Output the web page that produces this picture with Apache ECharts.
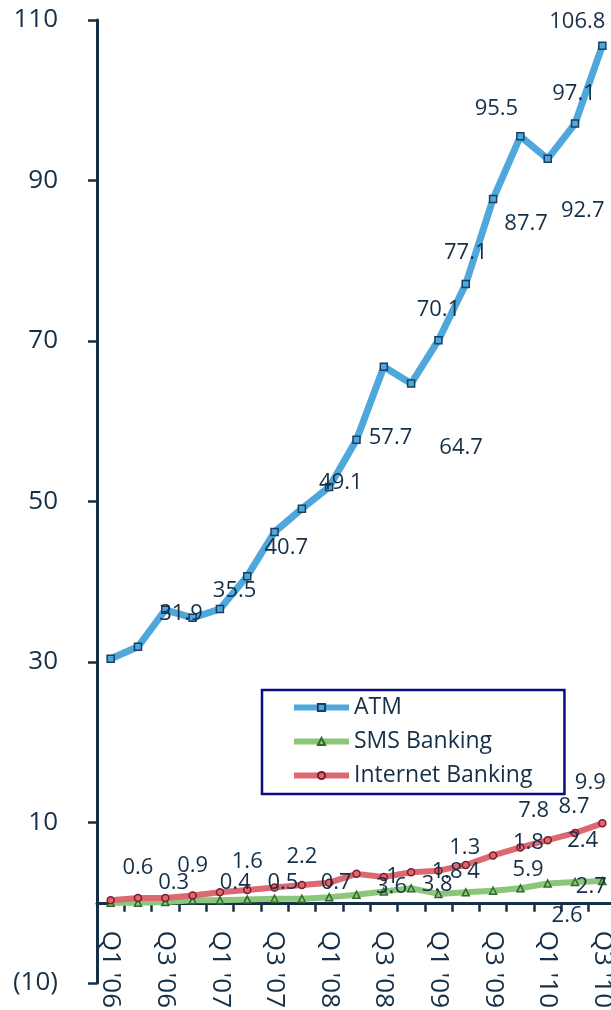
<!DOCTYPE html>
<html>
<head>
<meta charset="utf-8">
<script src="https://cdn.jsdelivr.net/npm/echarts@6/dist/echarts.min.js"></script>
<style>
  html, body { margin: 0; padding: 0; background: #fff; }
</style>
</head>
<body>
<div id="MyChart" style="width: 611px; height: 1010px;"></div>
<script>
// quarters on the x axis
const quarters = ["Q1 '06", "Q2 '06", "Q3 '06", "Q4 '06", "Q1 '07", "Q2 '07", "Q3 '07", "Q4 '07",
  "Q1 '08", "Q2 '08", "Q3 '08", "Q4 '08", "Q1 '09", "Q2 '09", "Q3 '09", "Q4 '09",
  "Q1 '10", "Q2 '10", "Q3 '10"];

// series values
const atm = [30.4, 31.9, 36.5, 35.5, 36.6, 40.7, 46.2, 49.1, 51.8, 57.7, 66.8, 64.7, 70.1, 77.1, 87.7, 95.5, 92.7, 97.1, 106.8];
const sms = [0.0, 0.0, 0.1, 0.3, 0.3, 0.4, 0.5, 0.5, 0.7, 1.0, 1.4, 1.8, 1.1, 1.3, 1.5, 1.8, 2.4, 2.6, 2.7];
const internet = [0.3, 0.6, 0.6, 0.9, 1.3, 1.6, 1.9, 2.2, 2.5, 3.6, 3.2, 3.8, 4.0, 4.7, 5.9, 6.9, 7.8, 8.7, 9.9];

// y axis tick labels
const yTicks = [-10, 10, 30, 50, 70, 90, 110];

// labelled points -> label shift from the marker [dx, dy]
const atmNudge = {1: [43, -33], 3: [42, -27], 5: [39, -28], 7: [39, -26], 9: [34, -2], 11: [50, 64],
  12: [0, -30], 13: [0, -31], 14: [33, 25], 15: [-24, -28], 16: [35, 52], 17: [-1, -30], 18: [-25, -24]};
const smsNudge = {3: [-19, -18], 5: [-12, -17], 7: [-19, -16], 8: [7, -14], 9: [36, -18], 11: [36, -17],
  13: [-1, -45], 15: [8, -46], 16: [35, -43], 17: [-8, 34], 18: [-11, 6]};
const internetNudge = {1: [0, -30], 3: [0, -30], 5: [0, -28], 7: [0, -28], 9: [35, 13], 11: [26, 12],
  12: [35, 1], 14: [35, 14], 16: [-14, -29], 17: [-1, -26], 18: [-12, -41]};

const textColor = '#152f47';
const font = '"Open Sans", "Noto Sans", sans-serif';

// plot box and y range
const gridTop = 20, gridBottom = 27, yMin = -10, yMax = 110;
// the quarter axis sits on y = 0: shift it up from the plot bottom by that many pixels
const plotHeight = 1010 - gridTop - gridBottom;
const zeroShift = plotHeight * (0 - yMin) / (yMax - yMin);

// turn on the label only for the points that have one
function withLabels(values, nudge) {
  return values.map(function (v, i) {
    if (nudge[i]) {
      return { value: v, label: { show: true, offset: nudge[i] } };
    }
    return v;
  });
}

function lineSeries(name, values, nudge, color, dark, symbol, width) {
  return {
    name: name,
    type: 'line',
    data: withLabels(values, nudge),
    symbol: symbol,
    symbolSize: 7,
    showAllSymbol: true,
    lineStyle: { color: color, width: width },
    itemStyle: { color: color, borderColor: dark, borderWidth: 1.5 },
    label: {
      show: false,
      position: 'inside',
      align: 'center',
      verticalAlign: 'middle',
      color: textColor,
      fontSize: 22,
      fontFamily: font
    },
    emphasis: { disabled: true }
  };
}

let myChart = echarts.init(document.getElementById('MyChart'));
let option = {
  animation: false,
  textStyle: { fontFamily: font },
  grid: { left: 97, right: -5, top: gridTop, bottom: gridBottom, containLabel: false, outerBoundsMode: 'none' },
  legend: {
    orient: 'vertical',
    left: 262,
    top: 690,
    padding: [6, 32, 7, 29],
    itemGap: 11,
    itemWidth: 55,
    itemHeight: 9,
    borderColor: '#0a0a80',
    borderWidth: 2.5,
    lineStyle: { width: 6 },
    textStyle: { color: textColor, fontSize: 23, fontFamily: font },
    data: ['ATM', 'SMS Banking', 'Internet Banking']
  },
  xAxis: {
    type: 'category',
    data: quarters,
    boundaryGap: true,
    offset: -zeroShift,
    axisLine: { onZero: false, lineStyle: { color: textColor, width: 3 } },
    axisTick: { show: true, interval: 0, length: 9, lineStyle: { color: textColor, width: 2.5 } },
    axisLabel: {
      interval: 1,
      rotate: -90,
      margin: 28,
      color: textColor,
      fontSize: 26,
      fontFamily: font
    },
    splitLine: { show: false }
  },
  yAxis: {
    type: 'value',
    min: yMin,
    max: yMax,
    interval: 10,
    axisLine: { show: true, lineStyle: { color: textColor, width: 3 } },
    axisTick: { show: true, length: 9, customValues: yTicks, lineStyle: { color: textColor, width: 2.5 } },
    axisLabel: {
      customValues: yTicks,
      margin: 39,
      color: textColor,
      fontSize: 26,
      fontFamily: font,
      formatter: function (v) {
        return v < 0 ? '(' + Math.abs(v) + ')' : String(v);
      }
    },
    splitLine: { show: false }
  },
  series: [
    lineSeries('ATM', atm, atmNudge, '#4fa8dc', '#1b3f5e', 'rect', 7),
    lineSeries('SMS Banking', sms, smsNudge, '#8cc67a', '#2f6a2a', 'triangle', 6),
    lineSeries('Internet Banking', internet, internetNudge, '#dc6872', '#7e1b2b', 'circle', 6)
  ]
};
myChart.setOption(option);
</script>
</body>
</html>
